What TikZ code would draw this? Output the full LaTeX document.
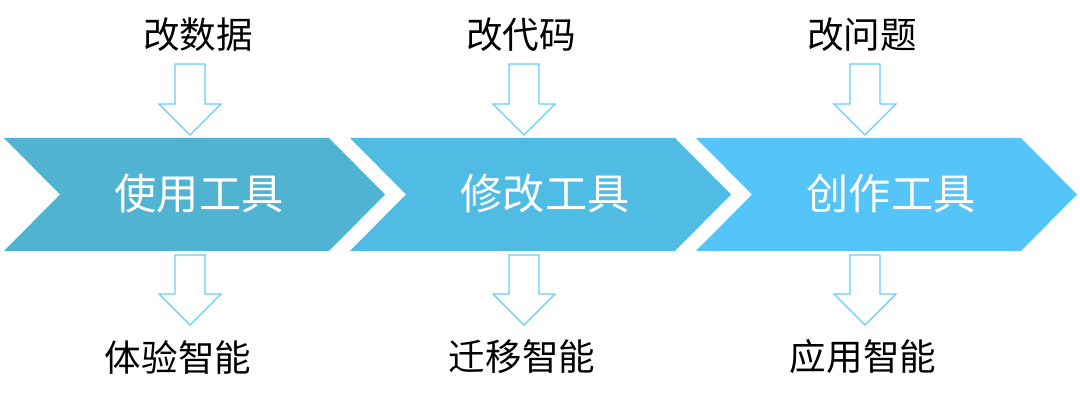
\documentclass[tikz,border=0pt]{standalone}
\usepackage{fontspec}
\setmainfont{Noto Sans CJK SC}
\usepackage{tikz}
\definecolor{stepone}{RGB}{79,179,209}
\definecolor{steptwo}{RGB}{80,188,228}
\definecolor{stepthree}{RGB}{85,196,248}
\definecolor{arrowline}{RGB}{102,204,255}
\tikzset{
	tool/.style={text=white,font=\fontsize{30pt}{31pt}\selectfont,inner sep=0pt},
	label/.style={text=black,font=\fontsize{26pt}{27pt}\selectfont,inner sep=0pt},
	hollow/.style={draw=arrowline,line width=0.9pt,fill=white,line join=miter}
}

\begin{document}
\begin{tikzpicture}[x=0.025cm,y=-0.025cm]
\useasboundingbox (0,0) rectangle (1080,400);
%chevrons
\fill[stepone] (4,138) -- ++(325,0) -- ++(56,56.5) -- ++(-56,56.5) -- ++(-325,0) -- ++(56,-56.5) -- cycle;
\fill[steptwo] (350,138) -- ++(325,0) -- ++(56,56.5) -- ++(-56,56.5) -- ++(-325,0) -- ++(56,-56.5) -- cycle;
\fill[stepthree] (696,138) -- ++(325,0) -- ++(56,56.5) -- ++(-56,56.5) -- ++(-325,0) -- ++(56,-56.5) -- cycle;
\path (199,194) node[tool] (use) {使用工具};
\path (545,194) node[tool] (modify) {修改工具};
\path (891,194) node[tool] (create) {创作工具};
%inputs
\path (198,35) node[label] (data) {改数据};
\path (521,35) node[label] (code) {改代码};
\path (862,35) node[label] (problem) {改问题};
\draw[hollow] (175,64) -- ++(30,0) -- ++(0,40) -- ++(16,0) -- ++(-31,31) -- ++(-31,-31) -- ++(16,0) -- cycle;
\draw[hollow] (509,64) -- ++(30,0) -- ++(0,40) -- ++(16,0) -- ++(-31,31) -- ++(-31,-31) -- ++(16,0) -- cycle;
\draw[hollow] (850,64) -- ++(30,0) -- ++(0,40) -- ++(16,0) -- ++(-31,31) -- ++(-31,-31) -- ++(16,0) -- cycle;
%outputs
\draw[hollow] (175,255) -- ++(30,0) -- ++(0,39) -- ++(16,0) -- ++(-31,31) -- ++(-31,-31) -- ++(16,0) -- cycle;
\draw[hollow] (509,255) -- ++(30,0) -- ++(0,39) -- ++(16,0) -- ++(-31,31) -- ++(-31,-31) -- ++(16,0) -- cycle;
\draw[hollow] (850,255) -- ++(30,0) -- ++(0,39) -- ++(16,0) -- ++(-31,31) -- ++(-31,-31) -- ++(16,0) -- cycle;
\path (178,357) node[label] (experience) {体验智能};
\path (522,357) node[label] (transfer) {迁移智能};
\path (863,357) node[label] (apply) {应用智能};
\end{tikzpicture}
\end{document}
